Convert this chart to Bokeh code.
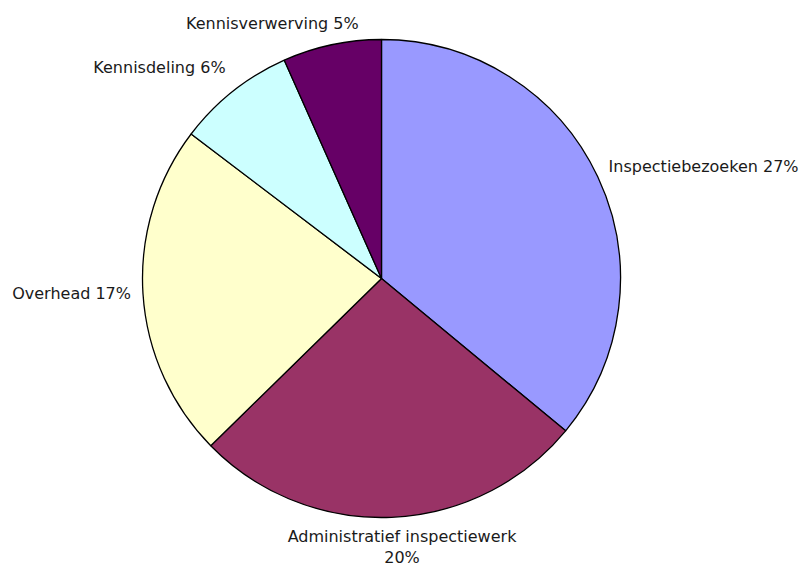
import math
from bokeh.plotting import figure
from bokeh.models import Range1d, ColumnDataSource
from bokeh.core.properties import value
from bokeh.embed import file_html
from bokeh.resources import INLINE

# ---- data ----
categories = ["Inspectiebezoeken", "Administratief inspectiewerk", "Overhead",
              "Kennisdeling", "Kennisverwerving"]
percentages = [27, 20, 17, 6, 5]
colors = ["#9999FF", "#993366", "#FFFFCC", "#CCFFFF", "#660066"]

# ---- layout ----
W, H = 803, 566
CX, CY, R = 381, 566 - 278, 239
GAP = 12
# small label nudges (px) to mimic the original placement
label_nudge = [(0, 5), (10, 2), (0, 1), (0, 5), (-57, 0)]

total = sum(percentages)
starts, ends, mids = [], [], []
cum = 0.0
for v in percentages:
    a0 = math.pi / 2 - 2 * math.pi * cum / total
    cum += v
    a1 = math.pi / 2 - 2 * math.pi * cum / total
    starts.append(a0)
    ends.append(a1)
    mids.append((a0 + a1) / 2)

src = ColumnDataSource(dict(start=starts, end=ends, color=colors, cat=categories))

p = figure(width=W, height=H, output_backend="svg", toolbar_location=None,
           x_range=Range1d(0, W), y_range=Range1d(0, H),
           min_border=0)
p.axis.visible = False
p.grid.visible = False
p.outline_line_color = None
p.background_fill_color = "white"
p.border_fill_color = "white"

p.wedge(x=CX, y=CY, radius=R, start_angle="start", end_angle="end",
        direction="clock", fill_color="color", line_color="black",
        line_width=1.3, source=src)

lx, ly, lt, la, lb = [], [], [], [], []
for cat, v, m, (ndx, ndy) in zip(categories, percentages, mids, label_nudge):
    dx, dy = math.cos(m), math.sin(m)
    ax = CX + (R + GAP) * dx + ndx
    ay = CY + (R + GAP) * dy + ndy
    if dx > 0.3:
        align = "left"
    elif dx < -0.3:
        align = "right"
    else:
        align = "center"
    if dy > 0.5:
        base = "bottom"
    elif dy < -0.5:
        base = "top"
    else:
        base = "middle"
    if cat == "Administratief inspectiewerk":
        txt = f"{cat}\n{v}%"
    else:
        txt = f"{cat} {v}%"
    lx.append(ax); ly.append(ay); lt.append(txt); la.append(align); lb.append(base)

lsrc = ColumnDataSource(dict(x=lx, y=ly, text=lt, align=la, base=lb))
p.text(x="x", y="y", text="text", text_align="align", text_baseline="base",
       text_font=value("DejaVu Sans"), text_font_size="16px",
       text_color="#1a1a1a", text_line_height=1.1, source=lsrc)

open("out.html", "w").write(file_html(p, INLINE))
